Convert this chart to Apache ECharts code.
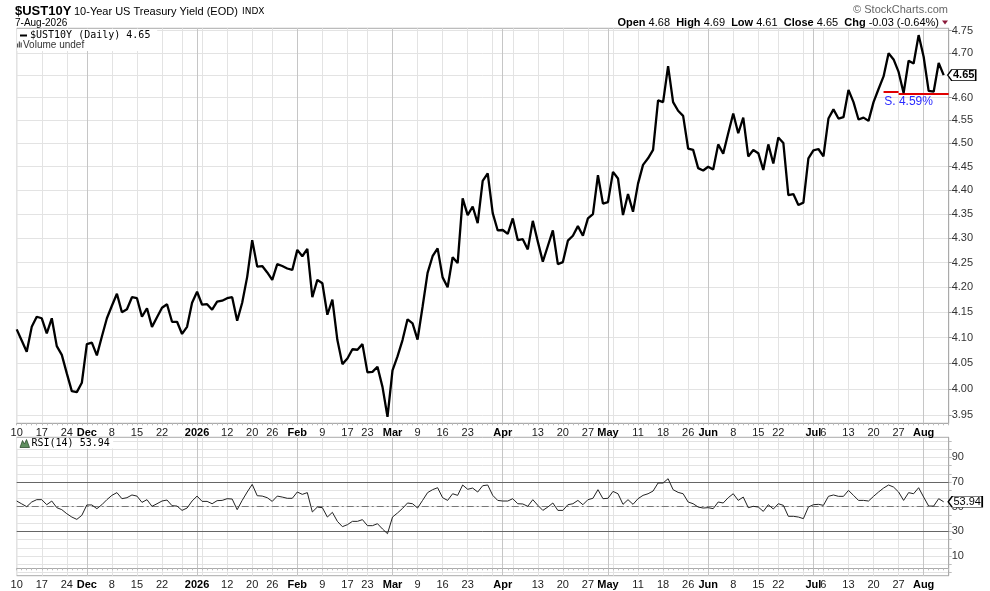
<!DOCTYPE html>
<html><head><meta charset="utf-8">
<script src="https://cdn.jsdelivr.net/npm/echarts@6/dist/echarts.min.js"></script>
<style>html,body{margin:0;padding:0;background:#fff}#c{width:990px;height:591px}</style>
</head><body><div id="c"></div>
<script>
// ---- trading days (categories) ----
const nov25 = [10,11,12,13,14,17,18,19,20,21,24,25,26,28];
const dec25 = [1,2,3,4,5,8,9,10,11,12,15,16,17,18,19,22,23,24,26,29,30,31];
const jan26 = [2,5,6,7,8,9,12,13,14,15,16,20,21,22,23,26,27,28,29,30];
const feb26 = [2,3,4,5,6,9,10,11,12,13,17,18,19,20,23,24,25,26,27];
const mar26 = [2,3,4,5,6,9,10,11,12,13,16,17,18,19,20,23,24,25,26,27,30,31];
const apr26 = [1,2,6,7,8,9,10,13,14,15,16,17,20,21,22,23,24,27,28,29,30];
const may26 = [1,4,5,6,7,8,11,12,13,14,15,18,19,20,21,22,26,27,28,29];
const jun26 = [1,2,3,4,5,8,9,10,11,12,15,16,17,18,22,23,24,25,26,29,30];
const jul26 = [1,2,6,7,8,9,10,13,14,15,16,17,20,21,22,23,24,27,28,29,30,31];
const aug26 = [3,4,5,6,7];

// ---- 10-year yield closes ----
const yieldClose = [
 4.116,4.094,4.072,4.121,4.141,4.138,4.108,4.138,4.083,4.066,4.030,3.996,3.994,4.012,
 4.087,4.090,4.065,4.102,4.138,4.163,4.187,4.150,4.156,4.180,4.178,4.141,4.158,4.121,4.140,4.159,4.166,4.131,4.131,4.107,4.121,4.169,
 4.191,4.165,4.166,4.155,4.171,4.173,4.178,4.180,4.133,4.169,4.221,4.296,4.242,4.243,4.230,4.215,4.247,4.243,4.238,4.235,
 4.276,4.263,4.278,4.180,4.215,4.208,4.145,4.175,4.095,4.048,4.059,4.077,4.076,4.087,4.032,4.033,4.043,4.004,3.947,
 4.036,4.063,4.095,4.136,4.128,4.096,4.161,4.229,4.263,4.279,4.220,4.200,4.261,4.249,4.383,4.348,4.366,4.331,4.420,4.436,4.352,4.316,
 4.317,4.309,4.341,4.296,4.298,4.277,4.336,4.293,4.252,4.284,4.316,4.247,4.251,4.295,4.305,4.325,4.305,4.341,4.350,4.432,4.372,
 4.375,4.439,4.425,4.348,4.392,4.355,4.414,4.454,4.468,4.486,4.594,4.590,4.670,4.590,4.571,4.560,4.489,4.486,4.447,4.442,
 4.450,4.444,4.498,4.478,4.522,4.565,4.522,4.556,4.472,4.486,4.479,4.443,4.498,4.457,4.513,4.501,4.390,4.392,4.369,4.374,4.468,
 4.485,4.488,4.472,4.554,4.574,4.554,4.557,4.617,4.590,4.552,4.556,4.549,4.590,4.619,4.647,4.699,4.685,4.657,4.610,4.682,4.676,4.740,
 4.691,4.615,4.613,4.677,4.650
];

// ---- RSI(14) ----
const rsi14 = [
 54.6,52.3,50.0,53.8,55.7,55.7,51.6,54.6,49.2,47.6,44.3,41.6,39.7,43.0,
 51.4,51.4,48.4,51.6,55.7,59.2,61.4,56.5,57.3,59.5,58.6,53.5,55.7,50.3,52.4,54.6,55.4,50.8,50.5,47.0,48.9,54.6,
 58.6,54.3,54.3,52.4,54.9,55.1,56.5,56.2,47.6,55.1,61.9,68.1,58.9,58.6,57.3,54.3,58.6,57.8,56.8,56.8,
 61.9,60.0,61.4,45.7,49.7,49.2,41.6,45.4,38.1,33.8,35.4,38.1,38.1,39.5,34.6,34.6,36.2,31.9,28.1,
 41.6,44.9,48.6,53.0,52.4,48.9,55.1,61.4,63.8,65.4,57.3,55.1,60.5,59.2,67.6,64.1,65.1,61.9,67.0,67.6,59.2,55.1,
 54.6,54.6,56.5,52.4,52.2,50.3,55.7,51.1,47.0,49.7,53.0,47.0,47.0,51.6,52.4,55.1,51.6,55.7,56.8,63.8,56.5,
 56.8,62.4,60.5,51.9,55.7,51.9,56.5,59.2,60.5,62.7,69.2,69.2,72.7,63.8,61.6,60.5,53.8,52.4,49.7,48.9,
 49.2,48.4,53.8,53.0,57.3,60.5,55.1,57.8,49.2,50.3,49.7,46.2,51.6,48.1,52.4,51.1,42.2,42.2,41.6,40.3,49.7,
 51.6,51.9,51.1,58.4,59.5,58.4,58.4,63.2,59.2,55.1,55.1,54.6,58.4,61.9,65.1,67.6,65.9,61.9,55.1,61.4,60.5,65.4,
 57.8,50.5,50.5,56.5,53.94
];

// ---- axis ticks / labels ----
const priceTicks = [3.95,4.00,4.05,4.10,4.15,4.20,4.25,4.30,4.35,4.40,4.45,4.50,4.55,4.60,4.65,4.70,4.75];
const rsiLabels = [10,30,50,70,90];
const rsiGrid = [-3.333,3.333,10,16.667,23.333,30,36.667,43.333,50,56.667,63.333,70,76.667,83.333,90,96.667,103.333];
const labelDates = ['2025-11-10','2025-11-17','2025-11-24','2025-12-01','2025-12-08','2025-12-15','2025-12-22','2026-01-02','2026-01-12','2026-01-20','2026-01-26','2026-02-02','2026-02-09','2026-02-17','2026-02-23','2026-03-02','2026-03-09','2026-03-16','2026-03-23','2026-04-01','2026-04-13','2026-04-20','2026-04-27','2026-05-01','2026-05-11','2026-05-18','2026-05-26','2026-06-01','2026-06-08','2026-06-15','2026-06-22','2026-07-01','2026-07-06','2026-07-13','2026-07-20','2026-07-27','2026-08-03'];
const labelTexts = ['10','17','24','Dec','8','15','22','2026','12','20','26','Feb','9','17','23','Mar','9','16','23','Apr','13','20','27','May','11','18','26','Jun','8','15','22','Jul','6','13','20','27','Aug'];
const supportLevel = [4.612, 4.609];
const supportText = 'S. 4.59%';

// ---- build categories ----
const pad = d => (d < 10 ? '0' : '') + d;
const dates = [].concat(
  nov25.map(d => '2025-11-' + pad(d)), dec25.map(d => '2025-12-' + pad(d)),
  jan26.map(d => '2026-01-' + pad(d)), feb26.map(d => '2026-02-' + pad(d)),
  mar26.map(d => '2026-03-' + pad(d)), apr26.map(d => '2026-04-' + pad(d)),
  may26.map(d => '2026-05-' + pad(d)), jun26.map(d => '2026-06-' + pad(d)),
  jul26.map(d => '2026-07-' + pad(d)), aug26.map(d => '2026-08-' + pad(d))
);
const cats = dates.concat(['2026-08-10']);
const lastIdx = dates.length - 1;
const labelMap = {};
labelDates.forEach((d, i) => labelMap[d] = labelTexts[i]);
const dow = s => new Date(s + 'T12:00:00Z').getUTCDay();
const weekStart = {}, monthStart = {};
cats.forEach((d, i) => {
  if (i === 0) { weekStart[i] = true; return; }
  const p = cats[i - 1];
  if (dow(d) < dow(p)) weekStart[i] = true;
  if (d.slice(0, 7) !== p.slice(0, 7)) monthStart[i] = true;
});

const FONT = '"Liberation Sans", Arial, sans-serif';
const labelFmt = v => {
  const t = labelMap[v];
  if (!t) return '';
  return (isNaN(+t) || t.length === 4) ? '{m|' + t + '}' : '{d|' + t + '}';
};
function mainX(gridIndex) {
  return {
    type: 'category', gridIndex, data: cats, boundaryGap: false, position: 'bottom',
    axisLine: { show: true, lineStyle: { color: '#aaa', width: 1 } },
    axisTick: { show: true, interval: 0, length: 2, lineStyle: { color: '#bbb' } },
    axisLabel: {
      interval: (i, v) => !!labelMap[v], formatter: labelFmt, margin: 4,
      rich: {
        d: { fontFamily: FONT, fontSize: 11, color: '#222' },
        m: { fontFamily: FONT, fontSize: 11, fontWeight: 'bold', color: '#000' }
      }
    },
    splitLine: { show: true, interval: (i) => !!weekStart[i], lineStyle: { color: '#e3e3e3', width: 1 } }
  };
}
function monthX(gridIndex) {
  return {
    type: 'category', gridIndex, data: cats, boundaryGap: false, position: 'top',
    axisLine: { show: false }, axisTick: { show: false }, axisLabel: { show: false },
    splitLine: { show: true, interval: (i) => !!monthStart[i], lineStyle: { color: '#c6c6c6', width: 1 } }
  };
}

const chart = echarts.init(document.getElementById('c'), null, { renderer: 'canvas' });
const option = {
  animation: false,
  backgroundColor: '#fff',
  textStyle: { fontFamily: FONT },
  grid: [
    { left: 16.7, top: 28.3, width: 932, height: 395, show: true, borderColor: '#aaa', borderWidth: 1, backgroundColor: 'transparent' },
    { left: 16.7, top: 437.3, width: 932, height: 138.4, show: true, borderColor: '#aaa', borderWidth: 1, backgroundColor: 'transparent' }
  ],
  xAxis: [mainX(0), monthX(0), mainX(1), monthX(1)],
  yAxis: [
    {
      type: 'log', gridIndex: 0, position: 'right', min: 3.9347, max: 4.7555,
      axisLine: { show: true, lineStyle: { color: '#aaa' } },
      axisTick: { show: true, length: 3, customValues: priceTicks, lineStyle: { color: '#999' } },
      axisLabel: { customValues: priceTicks, formatter: v => (+v).toFixed(2), color: '#333', fontSize: 11, fontFamily: FONT, margin: 3 },
      splitLine: { show: true, lineStyle: { color: '#e3e3e3', width: 1 } }
    },
    {
      type: 'value', gridIndex: 1, position: 'right', min: -6.0, max: 106.3,
      axisLine: { show: true, lineStyle: { color: '#aaa' } },
      axisTick: { show: true, length: 3, customValues: rsiGrid, lineStyle: { color: '#bbb' } },
      axisLabel: { customValues: rsiLabels, formatter: v => String(Math.round(v)), color: '#333', fontSize: 11, fontFamily: FONT, margin: 3 },
      splitLine: { show: true, lineStyle: { color: '#e3e3e3', width: 1 } }
    }
  ],
  series: [
    {
      type: 'line', name: '$UST10Y', xAxisIndex: 0, yAxisIndex: 0, data: yieldClose,
      showSymbol: false, symbol: 'none', smooth: false,
      lineStyle: { color: '#000', width: 2.3 }, z: 5,
      markLine: {
        silent: true, symbol: ['none', 'none'], label: { show: false },
        lineStyle: { color: '#e00000', width: 2, type: 'solid' },
        data: [
          [{ coord: [173, supportLevel[0]] }, { coord: [176, supportLevel[0]] }],
          [{ coord: [176, supportLevel[1]] }, { coord: [186, supportLevel[1]] }]
        ]
      },
      markPoint: {
        silent: true,
        data: [
          {
            coord: [lastIdx, yieldClose[lastIdx]],
            symbol: 'path://M0,5 L4,0 L28,0 L28,10 L4,10 Z', symbolSize: [28, 11], symbolKeepAspect: false,
            symbolOffset: [18, 0],
            itemStyle: { color: '#fff', borderColor: '#000', borderWidth: 1 },
            label: { show: true, position: 'inside', offset: [2, 0], formatter: () => yieldClose[lastIdx].toFixed(2),
              color: '#000', fontWeight: 'bold', fontSize: 11, fontFamily: FONT }
          },
          {
            coord: [178, 4.591], symbol: 'rect', symbolSize: 1,
            itemStyle: { color: 'rgba(0,0,0,0)' },
            label: { show: true, position: 'inside', formatter: supportText, color: '#2a2aff', fontSize: 12, fontFamily: FONT }
          }
        ]
      }
    },
    {
      type: 'line', name: 'RSI(14)', xAxisIndex: 2, yAxisIndex: 1, data: rsi14,
      showSymbol: false, symbol: 'none',
      lineStyle: { color: '#222', width: 1 }, z: 5,
      markLine: {
        silent: true, symbol: ['none', 'none'], label: { show: false },
        data: [
          { yAxis: 70, lineStyle: { color: '#666', width: 1, type: 'solid' } },
          { yAxis: 30, lineStyle: { color: '#666', width: 1, type: 'solid' } },
          { yAxis: 50, lineStyle: { color: '#777', width: 1, type: [7, 3, 2, 3] } }
        ]
      },
      markPoint: {
        silent: true,
        data: [{
          coord: [lastIdx, rsi14[lastIdx]],
          symbol: 'path://M0,5 L4,0 L34,0 L34,10 L4,10 Z', symbolSize: [34, 11], symbolKeepAspect: false,
          symbolOffset: [21.5, 0],
          itemStyle: { color: '#fff', borderColor: '#000', borderWidth: 1 },
          label: { show: true, position: 'inside', offset: [2, 0], formatter: () => rsi14[lastIdx].toFixed(2),
            color: '#000', fontSize: 11, fontFamily: FONT }
        }]
      }
    }
  ],
  graphic: [
    { type: 'text', z: 100, x: 15, y: 11, style: { text: '$UST10Y', font: 'bold 13px ' + FONT, fill: '#000', align: 'left', verticalAlign: 'middle' } },
    { type: 'text', z: 100, x: 74, y: 11.5, style: { text: '10-Year US Treasury Yield (EOD)', font: '11px ' + FONT, fill: '#000', align: 'left', verticalAlign: 'middle' } },
    { type: 'text', z: 100, x: 242, y: 11.5, style: { text: 'INDX', font: '9px "DejaVu Sans"', fill: '#000', align: 'left', verticalAlign: 'middle' } },
    { type: 'text', z: 100, x: 15, y: 23, style: { text: '7-Aug-2026', font: '10px ' + FONT, fill: '#000', align: 'left', verticalAlign: 'middle' } },
    { type: 'text', z: 100, x: 948, y: 9.5, style: { text: '\u00A9 StockCharts.com', font: '11px ' + FONT, fill: '#666', align: 'right', verticalAlign: 'middle' } },
    { type: 'text', z: 100, x: 939, y: 22.5, style: {
        text: '{b|Open} 4.68  {b|High} 4.69  {b|Low} 4.61  {b|Close} 4.65  {b|Chg} -0.03 (-0.64%)',
        font: '11px ' + FONT, fill: '#000', align: 'right', verticalAlign: 'middle',
        rich: { b: { font: 'bold 11px ' + FONT, fill: '#000' } } } },
    { type: 'polygon', z: 100, shape: { points: [[942, 20.5], [948, 20.5], [945, 24.5]] }, style: { fill: '#8b1a3a' } },
    // legend box (price panel)
    { type: 'rect', z: 90, shape: { x: 17.2, y: 28.9, width: 140, height: 22 }, style: { fill: '#fff' } },
    { type: 'rect', z: 100, shape: { x: 20, y: 34.5, width: 7, height: 2 }, style: { fill: '#000' } },
    { type: 'text', z: 100, x: 30, y: 35.5, style: { text: '$UST10Y (Daily) 4.65', font: '10px "DejaVu Sans Mono"', fill: '#000', align: 'left', verticalAlign: 'middle' } },
    { type: 'rect', z: 100, shape: { x: 17, y: 43.5, width: 1.2, height: 4 }, style: { fill: '#555' } },
    { type: 'rect', z: 100, shape: { x: 18.8, y: 41.5, width: 1.2, height: 6 }, style: { fill: '#555' } },
    { type: 'rect', z: 100, shape: { x: 20.6, y: 42.5, width: 1.2, height: 5 }, style: { fill: '#555' } },
    { type: 'text', z: 100, x: 23, y: 45.5, style: { text: 'Volume undef', font: '10px ' + FONT, fill: '#333', align: 'left', verticalAlign: 'middle' } },
    // legend box (RSI panel)
    { type: 'rect', z: 90, shape: { x: 17.2, y: 437.9, width: 96, height: 10.5 }, style: { fill: '#fff' } },
    { type: 'polygon', z: 100, shape: { points: [[20, 447.5], [22.5, 440.5], [24.5, 444], [26.5, 439.5], [29.5, 447.5]] }, style: { fill: '#5f8f5f', stroke: '#2e4d2e', lineWidth: 0.8 } },
    { type: 'text', z: 100, x: 31.5, y: 443.5, style: { text: 'RSI(14) 53.94', font: '10px "DejaVu Sans Mono"', fill: '#000', align: 'left', verticalAlign: 'middle' } }
  ]
};
chart.setOption(option);
</script>
</body></html>
